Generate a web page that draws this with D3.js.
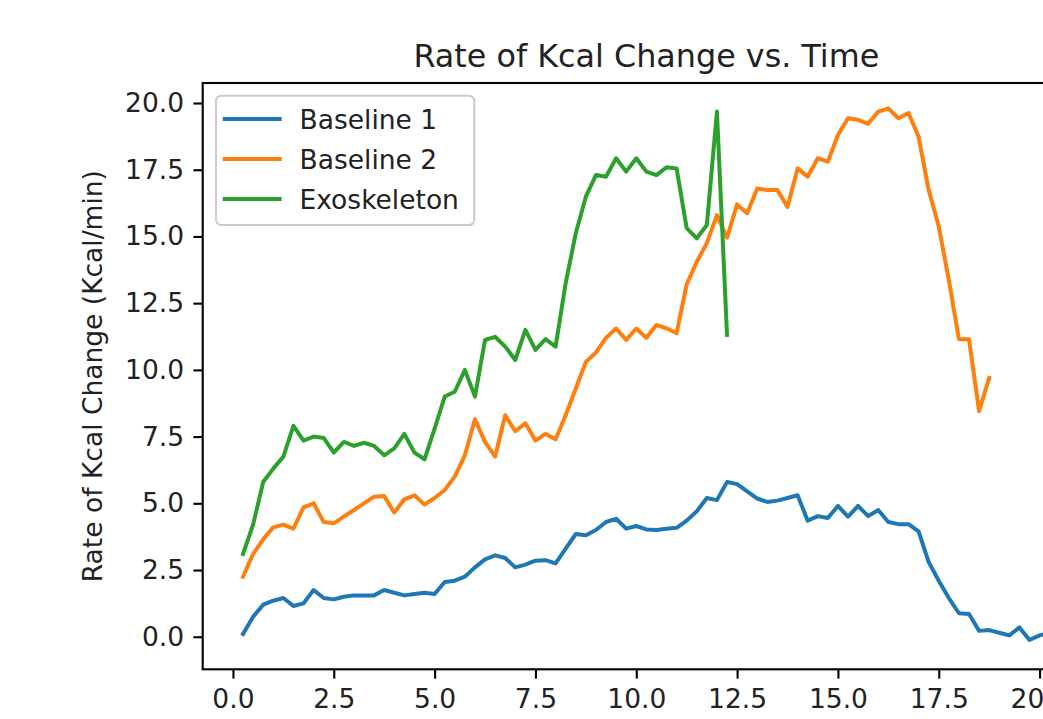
<!DOCTYPE html>
<html>
<head>
<meta charset="utf-8">
<script src="https://cdn.jsdelivr.net/npm/d3@7"></script>
<style>
  html, body { margin: 0; padding: 0; background: #fff; }
  svg { display: block; font-family: "DejaVu Sans", sans-serif; }
</style>
</head>
<body>
<div id="chart"></div>
<script>
// ---- data (time step 0.25 min, starting at 0.25) ----
const timeStart = 0.25;
const timeStep = 0.25;
const baseline1 = [
  0.1, 0.75, 1.2, 1.35, 1.45, 1.15, 1.25, 1.75, 1.45, 1.4,
  1.5, 1.55, 1.55, 1.55, 1.75, 1.65, 1.55, 1.6, 1.65, 1.6,
  2.05, 2.1, 2.25, 2.6, 2.9, 3.05, 2.95, 2.6, 2.7, 2.85,
  2.87, 2.75, 3.3, 3.85, 3.8, 4.0, 4.3, 4.42, 4.05, 4.15,
  4.02, 4.0, 4.05, 4.08, 4.35, 4.7, 5.2, 5.12, 5.8, 5.72,
  5.45, 5.18, 5.05, 5.1, 5.2, 5.3, 4.35, 4.52, 4.45, 4.9,
  4.5, 4.9, 4.52, 4.75, 4.3, 4.22, 4.22, 3.95, 2.8, 2.1,
  1.45, 0.88, 0.85, 0.22, 0.25, 0.15, 0.05, 0.35, -0.12, 0.05,
  0.15
];
const baseline2 = [
  2.25, 3.1, 3.65, 4.1, 4.2, 4.05, 4.85, 5.0, 4.3, 4.25,
  4.5, 4.75, 5.0, 5.25, 5.27, 4.65, 5.15, 5.3, 4.95, 5.2,
  5.5, 6.0, 6.8, 8.15, 7.3, 6.75, 8.3, 7.7, 8.0, 7.35,
  7.6, 7.4, 8.3, 9.3, 10.3, 10.65, 11.2, 11.55, 11.12, 11.55,
  11.2, 11.68, 11.56, 11.37, 13.2, 14.05, 14.75, 15.8, 14.95, 16.2,
  15.87, 16.8, 16.74, 16.74, 16.1, 17.55, 17.24, 17.93, 17.8, 18.8,
  19.43, 19.37, 19.22, 19.68, 19.8, 19.43, 19.62, 18.74, 16.74, 15.37,
  13.37, 11.15, 11.15, 8.45, 9.7
];
const exoskeleton = [
  3.1, 4.2, 5.8, 6.3, 6.75, 7.9, 7.35, 7.5, 7.45, 6.9,
  7.3, 7.15, 7.27, 7.15, 6.8, 7.06, 7.6, 6.9, 6.65, 7.8,
  9.0, 9.18, 10.0, 9.0, 11.12, 11.24, 10.87, 10.37, 11.5, 10.75,
  11.15, 10.87, 13.25, 15.12, 16.49, 17.3, 17.24, 17.93, 17.43, 17.93,
  17.43, 17.3, 17.59, 17.55, 15.31, 14.93, 15.43, 19.68, 11.31
];
const seriesNames = ["Baseline 1", "Baseline 2", "Exoskeleton"];
const seriesColors = ["#1f77b4", "#ff7f0e", "#2ca02c"];
const xTicks = [0, 2.5, 5, 7.5, 10, 12.5, 15, 17.5, 20];
const yTicks = [0, 2.5, 5, 7.5, 10, 12.5, 15, 17.5, 20];
const titleText = "Rate of Kcal Change vs. Time";
const yLabelText = "Rate of Kcal Change (Kcal/min)";

// ---- layout ----
const W = 1043, H = 719;
const axL = 202.7, axR = 1090, axT = 83, axB = 669.3;
const tickFont = 26.5, titleFont = 31.8;
const tickLen = 9.3, tickPad = 9.3;

const svg = d3.select("#chart").append("svg")
  .attr("width", W).attr("height", H);

const x = d3.scaleLinear().domain([-0.75, 21.25]).range([axL, axR]);
const y = d3.scaleLinear().domain([-1.22, 20.75]).range([axB, axT]);

const toPoints = arr => arr.map((v, i) => ({ t: timeStart + i * timeStep, v }));
const allSeries = [baseline1, baseline2, exoskeleton].map(toPoints);

svg.append("defs").append("clipPath").attr("id", "plotclip")
  .append("rect").attr("x", axL).attr("y", axT)
  .attr("width", axR - axL).attr("height", axB - axT);

const line = d3.line().x(d => x(d.t)).y(d => y(d.v));
const plot = svg.append("g").attr("clip-path", "url(#plotclip)");
allSeries.forEach((pts, i) => {
  plot.append("path").datum(pts)
    .attr("d", line)
    .attr("fill", "none")
    .attr("stroke", seriesColors[i])
    .attr("stroke-width", 4)
    .attr("stroke-linejoin", "round")
    .attr("stroke-linecap", "square");
});

// axes
const xAxis = d3.axisBottom(x).tickValues(xTicks).tickFormat(d3.format(".1f"))
  .tickSize(tickLen).tickPadding(tickPad);
const gx = svg.append("g").attr("transform", `translate(0,${axB})`).call(xAxis);
const yAxis = d3.axisLeft(y).tickValues(yTicks).tickFormat(d3.format(".1f"))
  .tickSize(tickLen).tickPadding(tickPad);
const gy = svg.append("g").attr("transform", `translate(${axL},0)`).call(yAxis);
[gx, gy].forEach(g => {
  g.select(".domain").remove();
  g.selectAll(".tick line").attr("stroke", "#000").attr("stroke-width", 2.1);
  g.selectAll(".tick text").attr("fill", "#222").attr("font-size", tickFont)
    .attr("font-family", "DejaVu Sans");
});
gx.selectAll(".tick text").attr("dy", "0.74em");

// spines
svg.append("rect").attr("x", axL).attr("y", axT)
  .attr("width", axR - axL).attr("height", axB - axT)
  .attr("fill", "none").attr("stroke", "#000").attr("stroke-width", 2.1);

// title
svg.append("text").attr("x", (axL + axR) / 2).attr("y", 67)
  .attr("text-anchor", "middle").attr("font-size", titleFont)
  .attr("fill", "#222").text(titleText);

// y label
svg.append("text")
  .attr("transform", `translate(102,${(axT + axB) / 2}) rotate(-90)`)
  .attr("text-anchor", "middle").attr("font-size", tickFont)
  .attr("fill", "#222").text(yLabelText);

// legend
const leg = svg.append("g");
leg.append("rect").attr("x", 216).attr("y", 95.7)
  .attr("width", 258.3).attr("height", 129.3).attr("rx", 5.3)
  .attr("fill", "rgba(255,255,255,0.8)").attr("stroke", "#cccccc").attr("stroke-width", 2);
seriesNames.forEach((name, i) => {
  const cy = 119 + i * 40;
  leg.append("line").attr("x1", 222.7).attr("x2", 281.7)
    .attr("y1", cy).attr("y2", cy)
    .attr("stroke", seriesColors[i]).attr("stroke-width", 4);
  leg.append("text").attr("x", 299.5).attr("y", cy + 10)
    .attr("font-size", tickFont).attr("fill", "#222").text(name);
});
</script>
</body>
</html>
